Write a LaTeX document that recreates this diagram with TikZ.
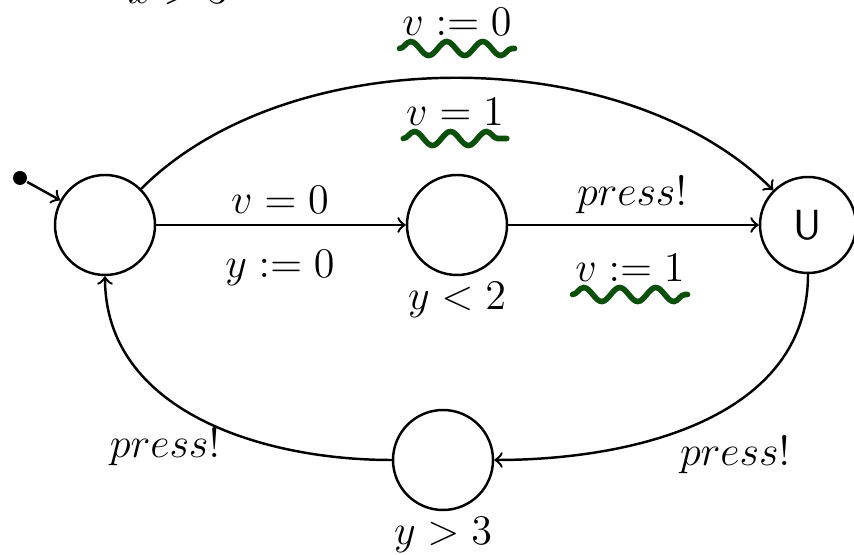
\documentclass[tikz,border=0pt]{standalone}
\usetikzlibrary{decorations.pathmorphing}
\definecolor{wavegreen}{RGB}{12,78,12}
\begin{document}
\begin{tikzpicture}[font=\large, line width=0.7pt,
  loc/.style={draw, circle, minimum size=1cm, inner sep=0pt},
  wavy/.style={draw=wavegreen, line width=1.6pt, line cap=round,
    decorate, decoration={snake, segment length=3.6mm, amplitude=0.7mm}}]
\useasboundingbox (0,0) rectangle (8.54,-5.55);
\clip (0,0) rectangle (8.54,-5.55);
% locations
\node[loc] (start) at (1.05,-2.25) {};
\node[loc] (wait) at (4.57,-2.25) {};
\node[loc, minimum size=0.96cm] (urg) at (8.08,-2.25) {\textsf{U}};
\node[loc] (back) at (4.43,-4.60) {};
\node[circle, fill, inner sep=0pt, minimum size=1.4mm] (init) at (0.20,-1.78) {};
% labels
\node[anchor=base] (guardtop) at (1.78,-0.04) {$x > 3$};
\node (resettop) at (4.57,-0.22) {$v := 0$};
\node (guardarc) at (4.55,-1.12) {$v = 1$};
\node (guardmid) at (2.80,-2.00) {$v = 0$};
\node (resetmid) at (2.80,-2.68) {$y := 0$};
\node (invwait) at (4.57,-3.00) {$y < 2$};
\node (pressup) at (6.32,-1.95) {$press!$};
\node (resetup) at (6.30,-2.68) {$v := 1$};
\node (pressright) at (7.35,-4.55) {$press!$};
\node (pressleft) at (1.65,-4.47) {$press!$};
\node (invback) at (4.43,-5.35) {$y > 3$};
% edges
\draw[->] (init) -- (start);
\draw[->] (start) to[out=45, in=135, looseness=0.85] (urg);
\draw[->] (start) -- (wait);
\draw[->] (wait) -- (urg);
\draw[->] (urg) to[out=-90, in=0] (back);
\draw[->] (back) to[out=180, in=-90] (start);
% underlines
\draw[wavy] ([xshift=1mm]resettop.south west) -- ([xshift=-1mm]resettop.south east);
\draw[wavy] ([xshift=1mm]guardarc.south west) -- ([xshift=-1mm]guardarc.south east);
\draw[wavy] ([xshift=1mm]resetup.south west) -- ([xshift=-1mm]resetup.south east);
\end{tikzpicture}
\end{document}
